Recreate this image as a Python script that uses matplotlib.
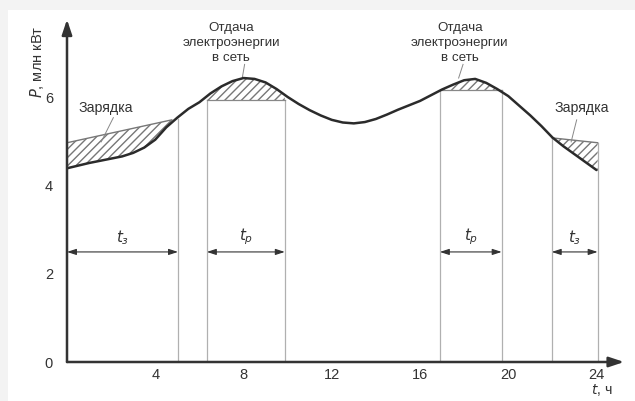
import numpy as np
import matplotlib
matplotlib.use("Agg")
import matplotlib.pyplot as plt
from matplotlib.patches import Rectangle

plt.rcParams['font.family'] = ['Liberation Sans', 'DejaVu Sans']

# ---- data ----
hours = [0, 0.5, 1, 1.5, 2, 2.5, 3, 3.5, 4, 4.5, 5, 5.5, 6, 6.5, 7, 7.5, 8, 8.5,
         9, 9.5, 10, 10.5, 11, 11.5, 12, 12.5, 13, 13.5, 14, 14.5, 15, 15.5, 16,
         16.5, 17, 17.5, 18, 18.5, 19, 19.5, 20, 20.5, 21, 21.5, 22, 22.5, 23,
         23.5, 24]
power = [4.40, 4.46, 4.52, 4.57, 4.62, 4.67, 4.75, 4.87, 5.05, 5.33, 5.55, 5.75,
         5.90, 6.10, 6.26, 6.38, 6.45, 6.43, 6.35, 6.20, 6.02, 5.86, 5.72, 5.60,
         5.50, 5.44, 5.42, 5.45, 5.52, 5.62, 5.73, 5.83, 5.93, 6.06, 6.19, 6.30,
         6.40, 6.43, 6.34, 6.20, 6.04, 5.82, 5.60, 5.36, 5.10, 4.90, 4.72, 4.54,
         4.36]

charge1_t = [0, 4.75]
charge1_p = [4.98, 5.50]
charge2_t = [22.0, 24.05]
charge2_p = [5.09, 4.98]

dis1_t = [6.34, 9.87]
dis1_level = 5.95
dis2_t = [16.9, 19.7]
dis2_level = 6.18

interval_bounds = [(0, 5.03), (6.34, 9.87), (16.9, 19.7), (21.97, 24.05)]
interval_labels = ['$t_з$', '$t_р$', '$t_р$', '$t_з$']
vline_t = [5.03, 6.34, 9.87, 16.9, 19.7, 21.97, 24.05]
vline_top = [5.52, 5.95, 5.95, 6.18, 6.18, 5.09, 4.98]

xticks = [4, 8, 12, 16, 20, 24]
yticks = [0, 2, 4, 6]

# ---- figure ----
W, H = 635, 401
fig = plt.figure(figsize=(W / 100, H / 100), dpi=100, facecolor='white')
fig.patches.append(Rectangle((0, 0), 8 / W, 1, transform=fig.transFigure,
                             facecolor='#f3f3f3', edgecolor='none', zorder=-5))
fig.patches.append(Rectangle((0, 1 - 10 / H), 1, 10 / H, transform=fig.transFigure,
                             facecolor='#f3f3f3', edgecolor='none', zorder=-5))

x0, x1 = 67, 623
y0, y1 = 362, 23
ax = fig.add_axes([x0 / W, (H - y0) / H, (x1 - x0) / W, (y0 - y1) / H])
ax.set_xlim(0, 25.2)
ax.set_ylim(0, 7.7)
ax.patch.set_alpha(0)
for s in ax.spines.values():
    s.set_visible(False)

ax.set_xticks(xticks)
ax.set_yticks(yticks)
ax.tick_params(length=0, labelsize=10.5, colors='#333333')
ax.tick_params(axis='x', pad=4)
ax.tick_params(axis='y', pad=10)

tc = '#333333'
gl = '#b0b0b0'

t = np.array(hours)
p = np.array(power)

# vertical guide lines
for vt, vtop in zip(vline_t, vline_top):
    ax.plot([vt, vt], [0, vtop], color=gl, lw=0.9, zorder=1)

# horizontal discharge levels
ax.plot(dis1_t, [dis1_level] * 2, color='#888888', lw=0.9, zorder=2)
ax.plot(dis2_t, [dis2_level] * 2, color='#888888', lw=0.9, zorder=2)

# charge lines
ax.plot(charge1_t, charge1_p, color='#777777', lw=1.0, zorder=2)
ax.plot(charge2_t, charge2_p, color='#777777', lw=1.0, zorder=2)

hatch_kw = dict(facecolor='none', edgecolor='#777777', linewidth=0, hatch='////', zorder=1.5)

# charging hatches
for ct, cp in [(charge1_t, charge1_p), (charge2_t, charge2_p)]:
    tt = np.concatenate([[ct[0]], t[(t > ct[0]) & (t < ct[1])], [ct[1]]])
    pc = np.interp(tt, t, p)
    pl = np.interp(tt, ct, cp)
    ax.fill_between(tt, pc, pl, **hatch_kw)

# discharge hatches
for dt, lev in [(dis1_t, dis1_level), (dis2_t, dis2_level)]:
    tt = np.concatenate([[dt[0]], t[(t > dt[0]) & (t < dt[1])], [dt[1]]])
    pc = np.interp(tt, t, p)
    ax.fill_between(tt, lev, np.maximum(pc, lev), **hatch_kw)

# main curve
ax.plot(t, p, color='#2b2b2b', lw=1.8, zorder=3, solid_capstyle='round',
        solid_joinstyle='round')

# axes with arrows
ax.annotate('', xy=(25.25, 0), xytext=(0, 0),
            arrowprops=dict(arrowstyle='-|>,head_length=0.9,head_width=0.3',
                            color='#333333', lw=1.8, shrinkA=0, shrinkB=0),
            annotation_clip=False, zorder=4)
ax.annotate('', xy=(0, 7.78), xytext=(0, 0),
            arrowprops=dict(arrowstyle='-|>,head_length=0.9,head_width=0.3',
                            color='#333333', lw=1.8, shrinkA=0, shrinkB=0),
            annotation_clip=False, zorder=4)

# interval arrows
for (a, b), lab in zip(interval_bounds, interval_labels):
    ax.annotate('', xy=(b, 2.5), xytext=(a, 2.5),
                arrowprops=dict(arrowstyle='<|-|>,head_length=0.55,head_width=0.18',
                                color='#333333', lw=0.8, shrinkA=0, shrinkB=0),
                zorder=4)
    ax.text((a + b) / 2, 2.62, lab, ha='center', va='bottom', fontsize=11, color=tc)

# annotations
for cx in (7.45, 17.8):
    ax.text(cx, 6.76, 'Отдача\nэлектроэнергии\nв сеть', ha='center', va='bottom',
            fontsize=9.6, color=tc, linespacing=1.35)
ax.plot([8.05, 7.95], [6.76, 6.47], color='#888888', lw=0.7)
ax.plot([17.95, 17.75], [6.76, 6.45], color='#888888', lw=0.7)

ax.text(0.5, 5.78, 'Зарядка', ha='left', va='center', fontsize=10.2, color=tc)
ax.plot([2.1, 1.55], [5.55, 5.0], color='#888888', lw=0.7)
ax.text(22.1, 5.78, 'Зарядка', ha='left', va='center', fontsize=10.2, color=tc)
ax.plot([23.1, 22.85], [5.5, 5.0], color='#888888', lw=0.7)

# axis labels
fig.text(37 / W, 1 - 62 / H, '$P$, млн кВт', rotation=90, ha='center', va='center',
         fontsize=10.5, color=tc)
fig.text(602 / W, 1 - 390 / H, '$t$, ч', ha='center', va='center', fontsize=10, color=tc)

fig.savefig('out.png', dpi=100, facecolor=fig.get_facecolor())
